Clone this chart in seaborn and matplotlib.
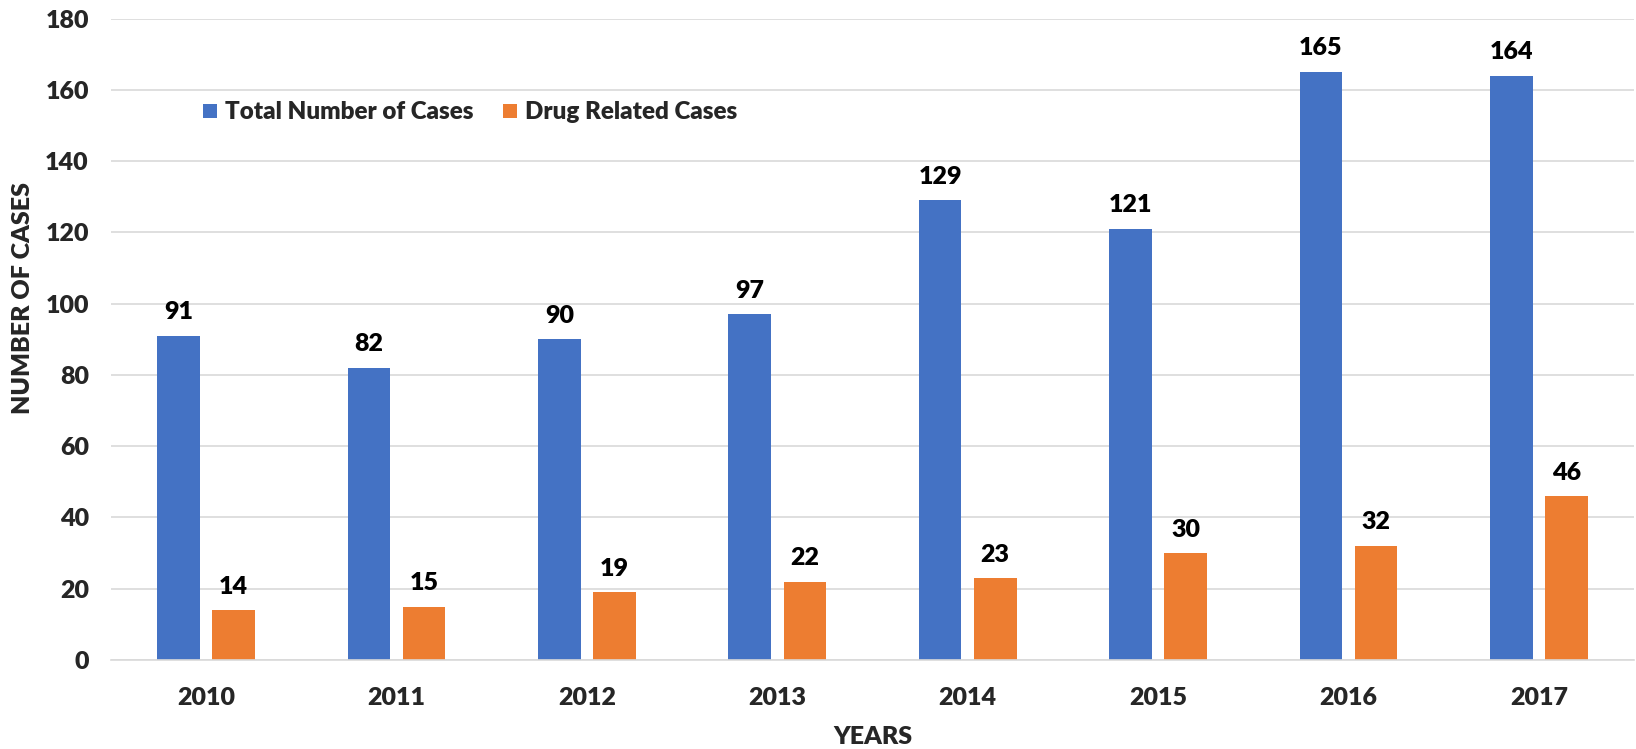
import matplotlib
matplotlib.use("Agg")
import matplotlib.pyplot as plt
import seaborn as sns
import pandas as pd
from matplotlib.lines import Line2D

years = ["2010", "2011", "2012", "2013", "2014", "2015", "2016", "2017"]
total_cases = [91, 82, 90, 97, 129, 121, 165, 164]
drug_cases = [14, 15, 19, 22, 23, 30, 32, 46]
series_names = ["Total Number of Cases", "Drug Related Cases"]
colors = ["#4472C4", "#ED7D31"]
y_ticks = [0, 20, 40, 60, 80, 100, 120, 140, 160, 180]

df = pd.DataFrame({
    "Year": years * 2,
    "Series": [series_names[0]] * len(years) + [series_names[1]] * len(years),
    "Cases": total_cases + drug_cases,
})

sns.set_theme(style="white")
plt.rcParams["font.family"] = ["Lato", "DejaVu Sans"]
W = "heavy"
plt.rcParams["font.weight"] = W
FS = 18
LFS = 17.4

fig = plt.figure(figsize=(16.36, 7.49), dpi=100)
ax = fig.add_axes([111 / 1636, 1 - 660 / 749, 1523 / 1636, (660 - 18.5) / 749])

sns.barplot(data=df, x="Year", y="Cases", hue="Series", order=years,
            hue_order=series_names, palette=colors, width=0.578, gap=0.225,
            ax=ax, legend=False, linewidth=0, saturation=1)

for cont in ax.containers:
    ax.bar_label(cont, padding=9, fontsize=FS, fontweight=W, color="black")

ax.set_ylim(0, 180)
ax.set_yticks(y_ticks)
ax.set_xlim(-0.5, len(years) - 0.5)
ax.yaxis.grid(True, color="#D9D9D9", linewidth=1.2)
ax.set_axisbelow(True)
for s in ["top", "right", "left"]:
    ax.spines[s].set_visible(False)
ax.spines["bottom"].set_color("#D9D9D9")
ax.spines["bottom"].set_linewidth(1.2)
ax.tick_params(axis="both", length=0, labelsize=FS)
ax.tick_params(axis="y", pad=16)
ax.tick_params(axis="x", pad=19.5)
for lbl in ax.get_xticklabels() + ax.get_yticklabels():
    lbl.set_fontweight(W)

ax.set_xlabel("YEARS", fontsize=FS, fontweight=W)
ax.set_ylabel("NUMBER OF CASES", fontsize=FS, fontweight=W)
ax.xaxis.label.set_va("center")
ax.yaxis.label.set_va("center")
ax.xaxis.set_label_coords(0.5, (660 - 737) / 641.5)
ax.yaxis.set_label_coords((23.5 - 111) / 1523, (660 - 298.5) / 641.5)

handles = [Line2D([0], [0], marker="s", linestyle="none", markersize=10.4,
                  markerfacecolor=c, markeredgewidth=0) for c in colors]
fig.legend(handles, series_names, loc="center left",
           bbox_to_anchor=(202.5 / 1636, 1 - 112 / 749), ncol=2, frameon=False,
           prop={"size": LFS, "weight": W}, handlelength=0.6,
           handletextpad=0.33, columnspacing=1.2, borderpad=0, borderaxespad=0)

fig.savefig("out.png", dpi=100)
